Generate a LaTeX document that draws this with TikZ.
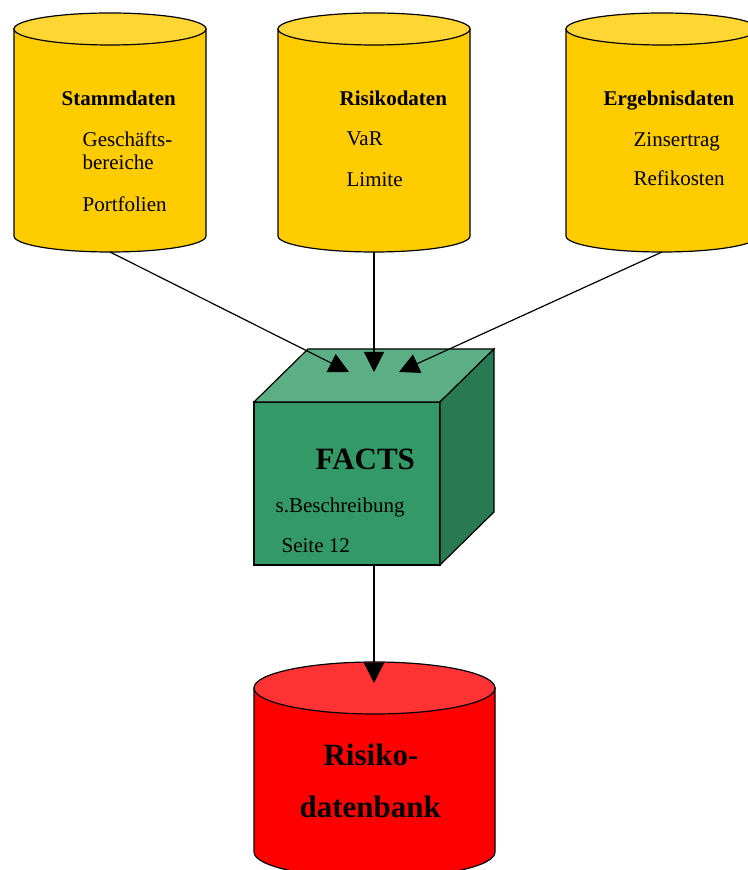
\documentclass[tikz,border=0pt]{standalone}
\usepackage{fontspec}
\setmainfont{Liberation Serif}
\usetikzlibrary{arrows.meta}
\definecolor{gelb}{HTML}{FFCC00}
\definecolor{gelbhell}{HTML}{FFD633}
\definecolor{gruen}{HTML}{339966}
\definecolor{gruenhell}{HTML}{5CAE85}
\definecolor{gruendunkel}{HTML}{297A52}
\definecolor{rot}{HTML}{FF0000}
\definecolor{rothell}{HTML}{FF3333}
\begin{document}
\begin{tikzpicture}[x=1pt, y=1pt, line width=1.2pt,
	pfeil/.style={-{Triangle[length=20pt, width=20pt]}},
	txt/.style={anchor=base west, inner sep=0pt, font=\fontsize{21}{25}\selectfont},
	titel/.style={txt, font=\fontsize{21}{25}\selectfont\bfseries},
	gross/.style={txt, font=\fontsize{31}{36}\selectfont\bfseries}]
		\useasboundingbox (0,0) rectangle (747,870);
		% Datenbanken oben
		\foreach \cx in {110, 374, 662} {
			\draw[fill=gelb] (\cx-96,841) -- (\cx-96,634) arc[start angle=180, end angle=360, x radius=96, y radius=16] -- (\cx+96,841) -- cycle;
			\draw[fill=gelbhell] (\cx,841) ellipse[x radius=96, y radius=16];
		}
		\node[titel] (stammdaten) at (61,764) {Stammdaten};
		\node[txt] (geschaefts) at (82,723) {Geschäfts-};
		\node[txt] (bereiche) at (82,700) {bereiche};
		\node[txt] (portfolien) at (82,658) {Portfolien};
		\node[titel] (risikodaten) at (339,764) {Risikodaten};
		\node[txt] (var) at (346,724) {VaR};
		\node[txt] (limite) at (346,683) {Limite};
		\node[titel] (ergebnisdaten) at (603,764) {Ergebnisdaten};
		\node[txt] (zinsertrag) at (633,723) {Zinsertrag};
		\node[txt] (refikosten) at (633,684) {Refikosten};
		% FACTS Wuerfel
		\draw[fill=gruen] (254,305) rectangle (440,468);
		\draw[fill=gruenhell] (254,468) -- (308,521) -- (494,521) -- (440,468) -- cycle;
		\draw[fill=gruendunkel] (440,468) -- (494,521) -- (494,358) -- (440,305) -- cycle;
		\node[gross] (facts) at (315,400) {FACTS};
		\node[txt] (beschreibung) at (275,357) {s.Beschreibung};
		\node[txt] (seite) at (281,317) {Seite 12};
		% Risikodatenbank
		\draw[fill=rot] (254,182) -- (254,18) arc[start angle=180, end angle=360, x radius=120.5, y radius=26] -- (495,182) -- cycle;
		\draw[fill=rothell] (374.5,182) ellipse[x radius=120.5, y radius=26];
		\node[gross] (risiko) at (323,104) {Risiko-};
		\node[gross] (datenbank) at (299,52) {datenbank};
		% Verbindungen
		\coordinate (stamm unten) at (110,618);
		\coordinate (risiko unten) at (374,618);
		\coordinate (ergebnis unten) at (662,618);
		\coordinate (facts links) at (349,498);
		\coordinate (facts mitte) at (374,498);
		\coordinate (facts rechts) at (399,498);
		\coordinate (facts unten) at (374,305);
		\coordinate (bank oben) at (374,187);
		\draw[pfeil] (stamm unten) -- (facts links);
		\draw[pfeil] (risiko unten) -- (facts mitte);
		\draw[pfeil] (ergebnis unten) -- (facts rechts);
		\draw[pfeil] (facts unten) -- (bank oben);
\end{tikzpicture}
\end{document}
